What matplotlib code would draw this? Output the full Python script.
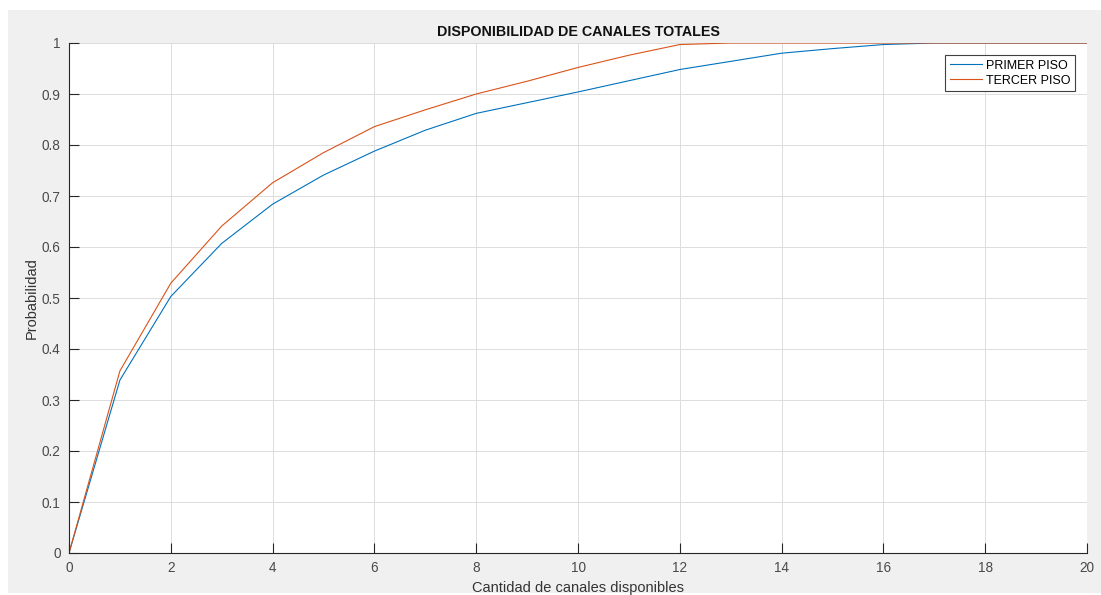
import matplotlib.pyplot as plt
from matplotlib.patches import Rectangle

plt.rcParams['font.family'] = ['Liberation Sans', 'DejaVu Sans']

# datos
canales = [0, 1, 2, 3, 4, 5, 6, 7, 8, 9, 10, 11, 12, 13, 14, 15, 16, 17, 18, 19, 20]
primer_piso = [0, 0.339, 0.503, 0.607, 0.684, 0.741, 0.788, 0.829, 0.862, 0.883,
               0.904, 0.926, 0.948, 0.964, 0.980, 0.989, 0.997, 1.0, 1.0, 1.0, 1.0]
tercer_piso = [0, 0.357, 0.529, 0.641, 0.726, 0.785, 0.836, 0.869, 0.900, 0.925,
               0.952, 0.976, 0.997, 1.0, 1.0, 1.0, 1.0, 1.0, 1.0, 1.0, 1.0]
xticks = list(range(0, 21, 2))
yticks = [0, 0.1, 0.2, 0.3, 0.4, 0.5, 0.6, 0.7, 0.8, 0.9, 1]
yticklabels = ['0', '0.1', '0.2', '0.3', '0.4', '0.5', '0.6', '0.7', '0.8', '0.9', '1']

fig = plt.figure(figsize=(11.01, 5.95), dpi=100, facecolor='white')
# fondo gris estilo MATLAB
fig.patches.append(Rectangle((8 / 1101, 2 / 595), 1 - 8 / 1101, 1 - 12 / 595,
                             transform=fig.transFigure, facecolor='#f0f0f0',
                             edgecolor='none', zorder=-10))

ax = fig.add_axes([69 / 1101, 42 / 595, 1018 / 1101, 510 / 595])
ax.plot(canales, primer_piso, color='#0072BD', lw=0.8, label='PRIMER PISO')
ax.plot(canales, tercer_piso, color='#D95319', lw=0.8, label='TERCER PISO')

ax.set_xlim(0, 20)
ax.set_ylim(0, 1)
ax.set_xticks(xticks)
ax.set_yticks(yticks)
ax.set_yticklabels(yticklabels)
ax.grid(True, color='#dcdcdc', lw=0.7)
ax.set_axisbelow(True)

for s in ['top', 'right']:
    ax.spines[s].set_visible(False)
for s in ['left', 'bottom']:
    ax.spines[s].set_color('#262626')
    ax.spines[s].set_linewidth(0.8)
ax.tick_params(direction='in', length=7, width=0.8, color='#262626',
               labelcolor='#4a4a4a', labelsize=9.8, pad=6)

ax.set_title('DISPONIBILIDAD DE CANALES TOTALES', fontsize=10.3, fontweight='bold',
             color='#111111', pad=5)
ax.set_xlabel('Cantidad de canales disponibles', fontsize=10.5, color='#333333', labelpad=4)
ax.set_ylabel('Probabilidad', fontsize=10.5, color='#333333', labelpad=2)

leg = ax.legend(loc='upper right', bbox_to_anchor=(0.988, 0.976), borderaxespad=0,
                fontsize=9, fancybox=False, framealpha=1, edgecolor='#404040',
                handlelength=2.6, handletextpad=0.3, borderpad=0.35, labelspacing=0.25)
leg.get_frame().set_linewidth(0.8)

fig.savefig('out.png', dpi=100, facecolor=fig.get_facecolor())
